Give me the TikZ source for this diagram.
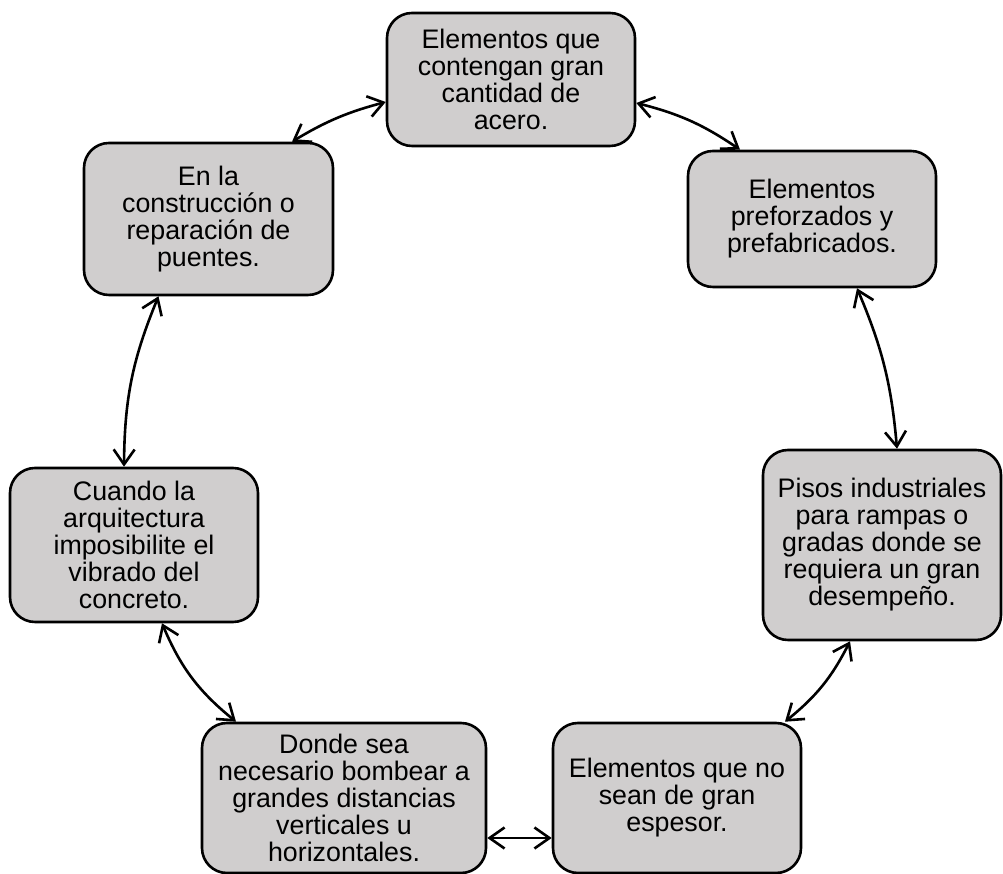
\documentclass[tikz,border=0pt]{standalone}
\usepackage{fontspec}
\setmainfont{Liberation Sans}
\usetikzlibrary{arrows.meta,positioning}
\definecolor{boxgray}{RGB}{208,206,206}
\tikzset{
  box/.style={draw=black, fill=boxgray, line width=2.6pt, rounded corners=25pt,
    align=center, inner sep=0pt,
    font=\fontsize{26.8}{27}\selectfont},
  link/.style={line width=2.6pt,
    arrows={Straight Barb[length=15pt,width=21pt]-Straight Barb[length=15pt,width=21pt]}}
}
\begin{document}
\begin{tikzpicture}[x=1pt,y=1pt]
\useasboundingbox (0,0) rectangle (1003,874);
\node[box, minimum width=248pt, minimum height=133pt] (b1) at (511,794.5)
  {Elementos que\\contengan gran\\cantidad de\\acero.};
\node[box, minimum width=248pt, minimum height=136pt] (b2) at (812,655)
  {Elementos\\preforzados y\\prefabricados.};
\node[box, minimum width=238pt, minimum height=190pt] (b3) at (882,329)
  {Pisos industriales\\para rampas o\\gradas donde se\\requiera un gran\\desempeño.};
\node[box, minimum width=248pt, minimum height=150pt] (b4) at (677,76)
  {Elementos que no\\sean de gran\\espesor.};
\node[box, minimum width=284pt, minimum height=150pt] (b5) at (344,76)
  {Donde sea\\necesario bombear a\\grandes distancias\\verticales u\\horizontales.};
\node[box, minimum width=248pt, minimum height=154pt] (b6) at (134,329)
  {Cuando la\\arquitectura\\imposibilite el\\vibrado del\\concreto.};
\node[box, minimum width=249pt, minimum height=152pt] (b7) at (208.5,655)
  {En la\\construcción o\\reparación de\\puentes.};

\draw[link] ([xshift=83.5pt]b7.north) to[bend left=8] ([yshift=-22.5pt]b1.west);
\draw[link] ([yshift=-23.5pt]b1.east) to[bend left=10] ([xshift=-72pt]b2.north);
\draw[link] ([xshift=45pt]b2.south) to[bend left=9] ([xshift=15pt]b3.north);
\draw[link] ([xshift=-32pt]b3.south) to[bend left=12] ([xshift=108pt]b4.north);
\draw[link] ([yshift=-40pt]b5.east) -- ([yshift=-40pt]b4.west);
\draw[link] ([xshift=-108pt]b5.north) to[bend left=14] ([xshift=28pt]b6.south);
\draw[link] ([xshift=-10pt]b6.north) to[bend left=11] ([xshift=-50pt]b7.south);
\end{tikzpicture}
\end{document}
